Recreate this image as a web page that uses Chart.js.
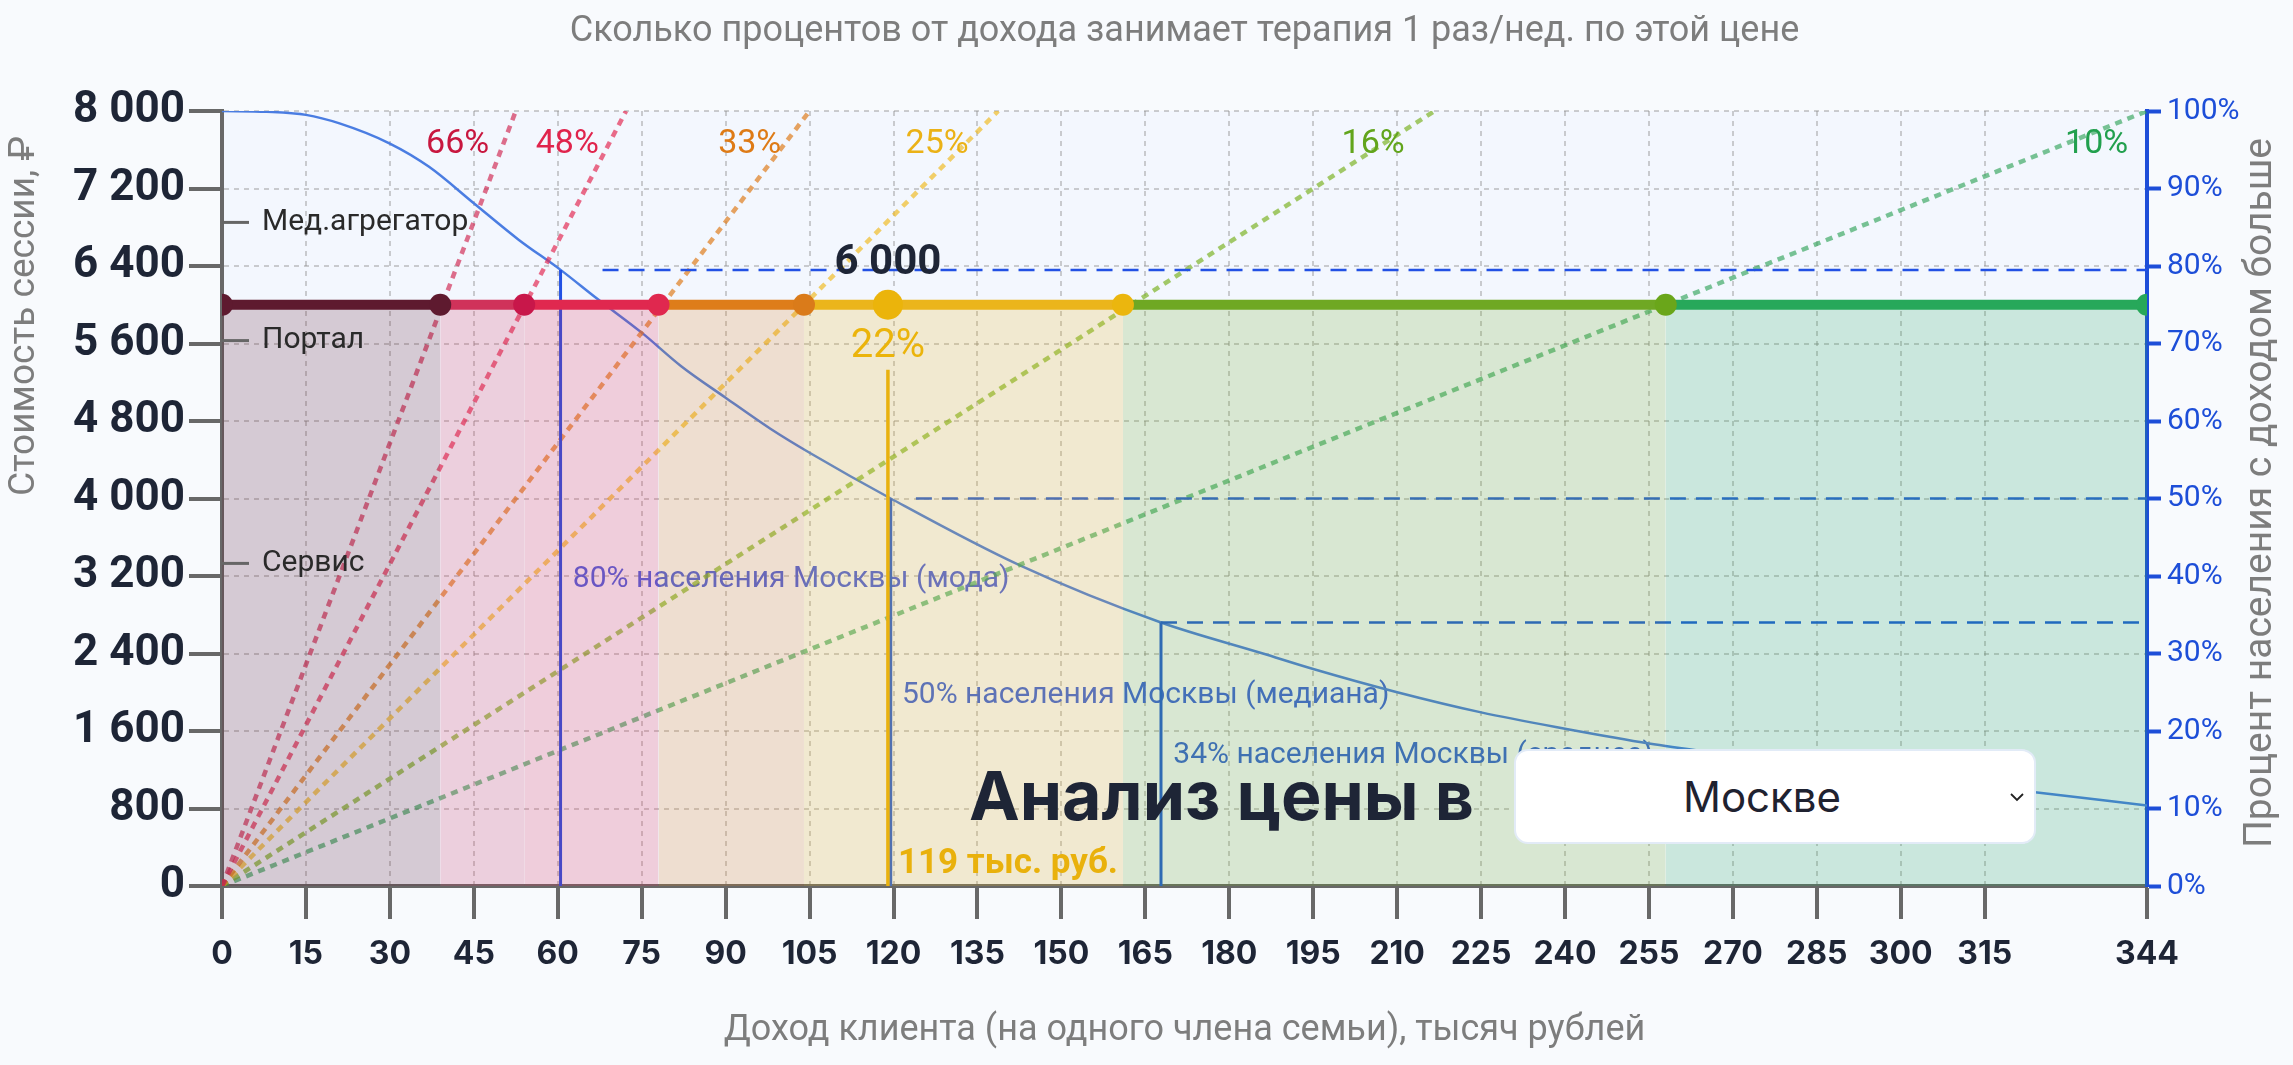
<!DOCTYPE html>
<html lang="ru">
<head>
<meta charset="utf-8">
<title>Анализ цены</title>
<script src="https://cdn.jsdelivr.net/npm/chart.js@4.4.1/dist/chart.umd.min.js"></script>
<style>
    html, body { margin: 0; padding: 0; background: #f8fafd; }
    .wrap { position: relative; width: 2293px; height: 1065px; overflow: hidden; }
    #priceChart { position: absolute; left: 0; top: 0; }
    .price-head {
        position: absolute; left: 969px; top: 761px; margin: 0;
        font: 700 68px/1 Inter, sans-serif; color: #1e2536; white-space: nowrap;
    }
    .city { position: absolute; left: 1514px; top: 749px; width: 522px; height: 95px; }
    .city select {
        width: 100%; height: 100%; box-sizing: border-box;
        appearance: none; -webkit-appearance: none;
        border: 2px solid #e2ebf7; border-radius: 14px; background: #fff;
        font: 400 42px Inter, sans-serif; color: #1f2230;
        text-align: center; text-align-last: center; padding: 0 26px 0 0;
    }
    .city svg { position: absolute; left: 496px; top: 44px; pointer-events: none; }
</style>
</head>
<body>
<div class="wrap">
    <canvas id="priceChart" width="2293" height="1065"></canvas>
    <h1 class="price-head">Анализ цены в</h1>
    <div class="city">
        <select id="city">
            <option selected>Москве</option>
            <option>Санкт-Петербурге</option>
        </select>
        <svg width="14" height="9" viewBox="0 0 14 9"><polyline points="1,1 7,7 13,1" fill="none" stroke="#222" stroke-width="1.8"/></svg>
    </div>
</div>
<script>
// ось X: доход клиента, тыс. руб.
const incomeTicks = [0, 15, 30, 45, 60, 75, 90, 105, 120, 135, 150, 165, 180, 195, 210, 225, 240, 255, 270, 285, 300, 315, 344];
const priceTicks = [0, 800, 1600, 2400, 3200, 4000, 4800, 5600, 6400, 7200, 8000];
const shareTicks = [0, 10, 20, 30, 40, 50, 60, 70, 80, 90, 100];

const sessionPrice = 6000;
const clientIncome = 119;
const clientShare = '22%';
const clientLineTop = 5330;

// участки линии цены: границы дохода и цвета
const bandEdges = [0, 39, 54, 78, 104, 161, 258, 344];
const bandColors = ['#5e1a2f', '#d0325a', '#e0284f', '#de7d1a', '#ebb51b', '#6fa823', '#27a85a'];
const edgeColors = ['#5e1a2f', '#5e1a2f', '#c8174a', '#e0284f', '#da7b1a', '#ebb60e', '#6aa61a', '#27a85a'];

// лучи "процент дохода"
const rayNames = ['66%', '48%', '33%', '25%', '16%', '10%'];
const rayEndX = [52.5, 72.2, 105, 138.7, 216.7, 344];
const rayEndY = [8000, 8000, 8000, 8000, 8000, 8000];
const rayColors = ['rgba(210,50,90,0.7)', 'rgba(226,45,85,0.7)', 'rgba(222,125,30,0.7)', 'rgba(240,188,40,0.7)', 'rgba(125,180,40,0.7)', 'rgba(50,165,90,0.65)'];
const rayTextColors = ['#c8173f', '#e0244c', '#de7b16', '#ebb217', '#62a51c', '#22a04e'];
const rayLabelX = [42.1, 61.7, 94.3, 127.8, 205.7, 335];
const rayLabelY = [7650, 7650, 7650, 7650, 7650, 7650];

// цены площадок
const platformNames = ['Мед.агрегатор', 'Портал', 'Сервис'];
const platformPrices = [6850, 5630, 3330];

// доля населения Москвы с доходом больше, %
const curveIncome = [0, 8, 15, 21, 30, 37, 45, 53, 60.5, 67, 75, 82, 90, 98, 105, 119.5, 142.5, 167.8, 186, 195, 210, 225, 240, 255, 270, 285, 300, 315, 324, 344];
const curveShare = [100, 99.9, 99.5, 98.4, 95.8, 92.8, 88.1, 83.4, 79.5, 75.8, 71.4, 67.1, 63, 59, 55.9, 50, 41.4, 34, 30, 28, 25, 22.4, 20.3, 18.4, 16.9, 15.4, 14, 12.8, 12.1, 10.4];

const popIncome = [60.5, 119.5, 167.8];
const popShare = [79.5, 50, 34];
const popDashFrom = [68, 124, 167.8];
const popColors = ['#2251e4', '#2a5fd6', '#1f5bd8'];
const popLabels = ['80% населения Москвы (мода)', '50% населения Москвы (медиана)', '34% населения Москвы (среднее)'];
const popLabelColors = ['#4c62e0', '#3a62de', '#3463d6'];
const popLabelX = [62.7, 121.5, 170];
const popLabelY = [3168, 1971, 1342];

const chartTitle = 'Сколько процентов от дохода занимает терапия 1 раз/нед. по этой цене';
const xTitle = 'Доход клиента (на одного члена семьи), тысяч рублей';
const yTitle = 'Стоимость сессии, ₽';
const y2Title = 'Процент населения с доходом больше';

function fmt(v) {
    return String(v).replace(/\B(?=(\d{3})+(?!\d))/g, ' ');
}

function withAlpha(hex, a) {
    const n = parseInt(hex.slice(1), 16);
    return `rgba(${n >> 16}, ${(n >> 8) & 255}, ${n & 255}, ${a})`;
}

document.addEventListener('DOMContentLoaded', function () {
    const canvas = document.getElementById('priceChart');
    const ctx = canvas.getContext('2d');

    const datasets = [];

    datasets.push({
        label: 'Доля населения',
        data: curveIncome.map((x, i) => ({ x: x, y: curveShare[i] })),
        yAxisID: 'y2',
        borderColor: '#4a7de2',
        borderWidth: 2.5,
        pointRadius: 0,
        cubicInterpolationMode: 'monotone',
        order: 10
    });

    rayNames.forEach((name, i) => {
        datasets.push({
            label: name,
            data: [{ x: 0, y: 0 }, { x: rayEndX[i], y: rayEndY[i] }],
            borderColor: rayColors[i],
            borderWidth: 4.5,
            borderDash: [7, 6],
            pointRadius: 0,
            order: 9
        });
    });

    popIncome.forEach((x, i) => {
        datasets.push({
            data: [{ x: x, y: 0 }, { x: x, y: popShare[i] }],
            yAxisID: 'y2',
            borderColor: popColors[i],
            borderWidth: 3,
            pointRadius: 0,
            order: 8
        });
        datasets.push({
            data: [{ x: popDashFrom[i], y: popShare[i] }, { x: 344, y: popShare[i] }],
            yAxisID: 'y2',
            borderColor: popColors[i],
            borderWidth: 2.5,
            borderDash: [16, 10],
            pointRadius: 0,
            order: 8
        });
    });

    datasets.push({
        data: [{ x: clientIncome, y: 0 }, { x: clientIncome, y: clientLineTop }],
        borderColor: '#e9b10c',
        borderWidth: 3.5,
        pointRadius: 0,
        order: 7
    });

    bandColors.forEach((color, i) => {
        datasets.push({
            data: [{ x: bandEdges[i], y: sessionPrice }, { x: bandEdges[i + 1], y: sessionPrice }],
            borderColor: color,
            borderWidth: 10,
            backgroundColor: withAlpha(color, 0.2),
            fill: 'origin',
            pointRadius: [i === 0 ? 11 : 0, 11],
            pointBackgroundColor: [edgeColors[i], edgeColors[i + 1]],
            pointBorderWidth: 0,
            clip: 0,
            order: 5
        });
    });

    datasets.push({
        data: [{ x: clientIncome, y: sessionPrice }],
        showLine: false,
        pointRadius: 15,
        pointBackgroundColor: '#ebb40b',
        pointBorderWidth: 0,
        order: 0
    });

    const decor = {
        id: 'decor',
        beforeDraw(chart) {
            const a = chart.chartArea;
            chart.ctx.save();
            chart.ctx.fillStyle = '#f3f7fe';
            chart.ctx.fillRect(a.left, a.top, a.right - a.left, a.bottom - a.top);
            chart.ctx.restore();
        },
        beforeDatasetsDraw(chart) {
            const c = chart.ctx, sx = chart.scales.x, sy = chart.scales.y;
            c.save();
            c.font = '400 30px Roboto';
            c.textAlign = 'left';
            c.textBaseline = 'middle';
            popLabels.forEach((t, i) => {
                c.fillStyle = popLabelColors[i];
                c.fillText(t, sx.getPixelForValue(popLabelX[i]), sy.getPixelForValue(popLabelY[i]));
            });
            c.restore();
        },
        afterDatasetsDraw(chart) {
            const c = chart.ctx, a = chart.chartArea, sx = chart.scales.x, sy = chart.scales.y;
            c.save();
            c.textBaseline = 'middle';

            c.textAlign = 'center';
            c.font = '400 34px Roboto';
            rayNames.forEach((t, i) => {
                c.fillStyle = rayTextColors[i];
                c.fillText(t, sx.getPixelForValue(rayLabelX[i]), sy.getPixelForValue(rayLabelY[i]));
            });

            c.textAlign = 'left';
            c.font = '400 30px Roboto';
            platformNames.forEach((t, i) => {
                const y = sy.getPixelForValue(platformPrices[i]);
                c.strokeStyle = '#666';
                c.lineWidth = 3;
                c.beginPath();
                c.moveTo(a.left, y);
                c.lineTo(a.left + 27, y);
                c.stroke();
                c.fillStyle = '#2a2a2a';
                c.fillText(t, a.left + 40, y);
            });

            const cx = sx.getPixelForValue(clientIncome);
            const cy = sy.getPixelForValue(sessionPrice);
            c.textAlign = 'center';
            c.font = '700 42px Roboto';
            c.fillStyle = '#1e2536';
            c.fillText(fmt(sessionPrice), cx, cy - 41);
            c.font = '400 40px Roboto';
            c.fillStyle = '#ebb40b';
            c.fillText(clientShare, cx, cy + 42);

            c.textAlign = 'left';
            c.font = '700 35px Roboto';
            c.fillStyle = '#e9b10c';
            c.fillText(clientIncome + ' тыс. руб.', cx + 10, a.bottom - 22);
            c.restore();
        },
        afterDraw(chart) {
            const c = chart.ctx, a = chart.chartArea;
            const mid = (a.left + a.right) / 2;
            c.save();
            c.fillStyle = '#7d7d7d';
            c.textAlign = 'center';
            c.textBaseline = 'middle';
            c.font = '400 36px Roboto';
            c.fillText(chartTitle, mid, 32);
            c.fillText(xTitle, mid, 1031);

            c.save();
            c.font = '400 37px Roboto';
            c.translate(25, 316);
            c.rotate(-Math.PI / 2);
            c.fillText(yTitle, 0, 0);
            c.restore();

            c.save();
            c.font = '400 39px Roboto';
            c.translate(2261, 493);
            c.rotate(-Math.PI / 2);
            c.fillText(y2Title, 0, 0);
            c.restore();
            c.restore();
        }
    };

    new Chart(ctx, {
        type: 'line',
        data: { datasets: datasets },
        plugins: [decor],
        options: {
            responsive: false,
            devicePixelRatio: 1,
            animation: false,
            layout: { padding: { top: 111, left: 0, right: 0, bottom: 0 } },
            plugins: {
                legend: { display: false },
                tooltip: { enabled: false },
                title: { display: false }
            },
            scales: {
                x: {
                    type: 'linear',
                    min: 0,
                    max: 344,
                    afterBuildTicks: s => { s.ticks = incomeTicks.map(v => ({ value: v })); },
                    afterFit: s => { s.height = 179; },
                    grid: { color: 'rgba(140, 140, 140, 0.42)', lineWidth: 2, tickLength: 33, tickColor: '#686868', tickWidth: 4 },
                    border: { dash: [5, 5], color: '#686868', width: 4 },
                    ticks: {
                        color: '#1e2536',
                        font: { family: 'Inter', weight: '700', size: 32 },
                        padding: 16,
                        autoSkip: false,
                        maxRotation: 0
                    }
                },
                y: {
                    type: 'linear',
                    position: 'left',
                    min: 0,
                    max: 8000,
                    afterBuildTicks: s => { s.ticks = priceTicks.map(v => ({ value: v })); },
                    afterFit: s => { s.width = 222; },
                    grid: { color: 'rgba(140, 140, 140, 0.42)', lineWidth: 2, tickLength: 33, tickColor: '#686868', tickWidth: 4 },
                    border: { dash: [5, 5], color: '#686868', width: 4 },
                    ticks: {
                        color: '#1e2536',
                        font: { family: 'Roboto', weight: '700', size: 44 },
                        padding: 4,
                        callback: v => fmt(v)
                    }
                },
                y2: {
                    type: 'linear',
                    position: 'right',
                    min: 0,
                    max: 100,
                    afterBuildTicks: s => { s.ticks = shareTicks.map(v => ({ value: v })); },
                    afterFit: s => { s.width = 146; },
                    grid: { drawOnChartArea: false, tickLength: 14, tickColor: '#1d4ed8', tickWidth: 4 },
                    border: { color: '#1d4ed8', width: 4 },
                    ticks: {
                        color: '#1d4ed8',
                        font: { family: 'Roboto', size: 30 },
                        padding: 6,
                        callback: v => v + '%'
                    }
                }
            }
        }
    });
});
</script>
</body>
</html>
